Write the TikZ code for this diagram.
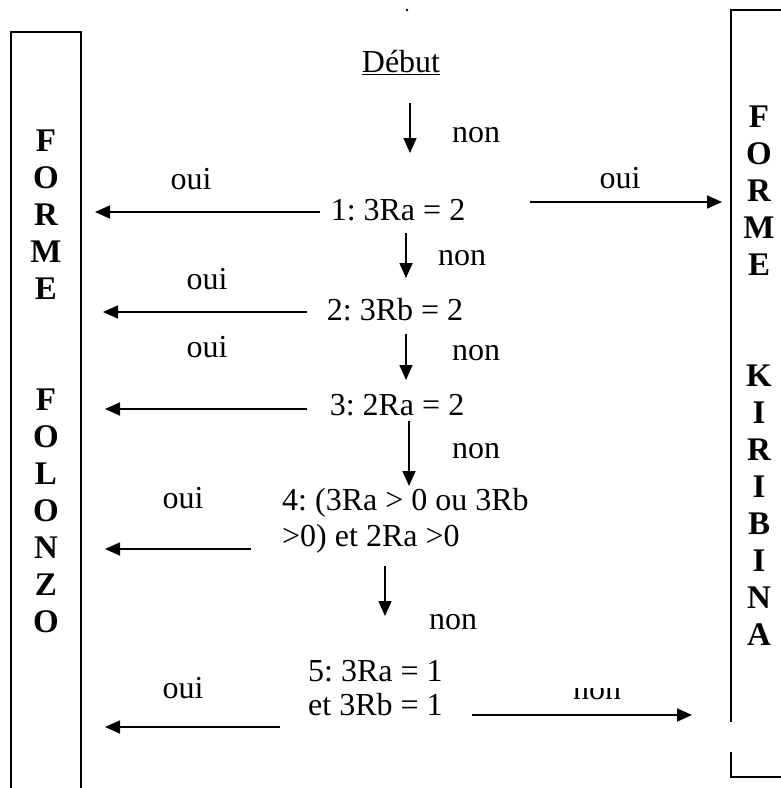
\documentclass[tikz,border=0pt]{standalone}
\usepackage{fontspec}
\setmainfont{Liberation Serif}
\usetikzlibrary{arrows.meta}
\frenchspacing
\begin{document}
\begin{tikzpicture}[x=1pt,y=-1pt,
  txt/.style={inner sep=0pt, font=\fontsize{32}{37}\selectfont, anchor=base},
  letter/.style={inner sep=0pt, font=\fontsize{33}{37}\selectfont\bfseries},
  arr/.style={line width=1.7pt, -{Triangle[length=15pt,width=13pt]}},
  frame/.style={line width=2pt}]
\useasboundingbox (0,0) rectangle (781,788);

% the two result columns
\draw[frame] (11,788) -- (11,32) -- (81,32) -- (81,788);
\draw[frame] (781,10) -- (731,10) -- (731,722);
\draw[frame] (731,752) -- (731,777) -- (781,777);
\fill (407,10) circle (1.3);

\foreach \ch/\k in {F/0,O/1,R/2,M/3,E/4,F/7,O/8,L/9,O/10,N/11,Z/12,O/13}
  \node[letter] (fl\k) at (46,{141+37*\k}) {\ch};
\foreach \ch/\k in {F/0,O/1,R/2,M/3,E/4,K/7,I/8,R/9,I/10,B/11,I/12,N/13,A/14}
  \node[letter] (kr\k) at (759,{117+37*\k}) {\ch};

% tests
\node[txt] (start) at (401,72) {\underline{Début}};
\node[txt] (c1) at (398,220) {1: 3Ra = 2};
\node[txt] (c2) at (395,320) {2: 3Rb = 2};
\node[txt] (c3) at (397,415) {3: 2Ra = 2};
\node[txt, anchor=base west] (c4a) at (282,510) {4: (3Ra > 0 ou 3Rb};
\node[txt, anchor=base west] (c4b) at (282,546) {>0) et 2Ra >0};
\node[txt, anchor=base west] (c5a) at (308,681) {5: 3Ra = 1};
\node[txt, anchor=base west] (c5b) at (308,715) {et 3Rb = 1};

% answers
\node[txt] (n0) at (476,142) {non};
\node[txt] (n1) at (462,265) {non};
\node[txt] (n2) at (476,360) {non};
\node[txt] (n3) at (476,458) {non};
\node[txt] (n4) at (453,629) {non};
\node[txt] (o1l) at (191,189) {oui};
\node[txt] (o1r) at (620,188) {oui};
\node[txt] (o2) at (207,289) {oui};
\node[txt] (o3) at (207,357) {oui};
\node[txt] (o4) at (183,508) {oui};
\node[txt] (o5) at (183,698) {oui};
\begin{scope}
  \clip (560,688) rectangle (640,712);
  \node[txt] (n5) at (597,699) {non};
\end{scope}

% arrow end points
\coordinate (d0a) at (410,103); \coordinate (d0b) at (410,153);
\coordinate (d1a) at (406,233); \coordinate (d1b) at (406,278);
\coordinate (d2a) at (406,334); \coordinate (d2b) at (406,380);
\coordinate (d3a) at (409,421); \coordinate (d3b) at (409,486);
\coordinate (d4a) at (385,566); \coordinate (d4b) at (385,616);
\coordinate (l1a) at (320,212); \coordinate (l1b) at (95,212);
\coordinate (l2a) at (307,312); \coordinate (l2b) at (103,312);
\coordinate (l3a) at (307,409); \coordinate (l3b) at (105,409);
\coordinate (l4a) at (251,549); \coordinate (l4b) at (105,549);
\coordinate (l5a) at (280,727); \coordinate (l5b) at (105,727);
\coordinate (r1a) at (530,202); \coordinate (r1b) at (722,202);
\coordinate (r5a) at (472,715); \coordinate (r5b) at (692,715);

\draw[arr] (d0a) -- (d0b);
\draw[arr] (d1a) -- (d1b);
\draw[arr] (d2a) -- (d2b);
\draw[arr] (d3a) -- (d3b);
\draw[arr] (d4a) -- (d4b);
\draw[arr] (l1a) -- (l1b);
\draw[arr] (l2a) -- (l2b);
\draw[arr] (l3a) -- (l3b);
\draw[arr] (l4a) -- (l4b);
\draw[arr] (l5a) -- (l5b);
\draw[arr] (r1a) -- (r1b);
\draw[arr] (r5a) -- (r5b);
\end{tikzpicture}
\end{document}
